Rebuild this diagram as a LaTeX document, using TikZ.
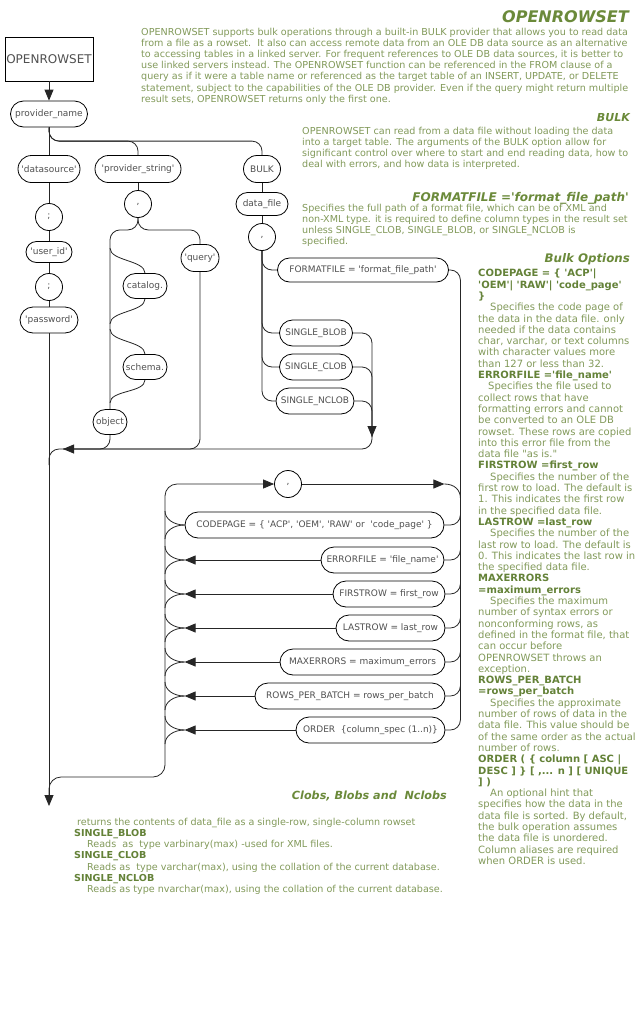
\documentclass[tikz,border=0pt]{standalone}
\usepackage{fontspec}
\newfontfamily\djv{DejaVu Sans}
\usetikzlibrary{shapes.misc,arrows.meta,calc}
\definecolor{titlegreen}{RGB}{107,138,58}
\definecolor{bodygreen}{RGB}{130,154,90}
\definecolor{boldgreen}{RGB}{100,130,56}
\definecolor{labelgray}{RGB}{80,80,80}
\newcommand{\optb}[1]{\textcolor{boldgreen}{\textbf{#1}}}
\tikzset{
  railtip/.tip={Triangle[length=11pt,width=9pt]},
  conn/.style={draw=black!85,line width=0.8pt},
  rc/.style={rounded corners=10pt},
  term/.style={rounded rectangle,draw=black,line width=0.8pt,fill=white,inner xsep=3pt,inner ysep=0pt,minimum height=26pt,font=\fontsize{9}{11}\selectfont,text=labelgray},
  punct/.style={circle,draw=black,line width=0.8pt,fill=white,inner sep=0pt,minimum size=27pt,font=\fontsize{9}{11}\selectfont,text=labelgray},
  body/.style={anchor=north west,align=left,inner sep=0pt,text=bodygreen,font=\fontsize{9.6}{11.2}\selectfont},
  head/.style={anchor=base east,inner sep=0pt,text=titlegreen},
}
\begin{document}
\djv
\begin{tikzpicture}[x=1pt,y=-1pt]
\useasboundingbox[fill=white] (0,0) rectangle (636,1015);

% ---------- nodes ----------
\node[draw=black,line width=0.8pt,minimum width=88pt,minimum height=44pt,inner sep=0pt,font=\fontsize{12}{14}\selectfont,text=labelgray] (box) at (49,59) {OPENROWSET};
\node[term,minimum width=83pt] (pn) at (49,114) {provider\_name};
\node[term,minimum width=68pt,minimum height=27pt] (ds) at (49,169) {'datasource'};
\node[punct] (s1) at (49,217) {;};
\node[term,minimum width=52pt,minimum height=21pt] (uid) at (49,252) {'user\_id'};
\node[punct] (s2) at (49,287) {;};
\node[term,minimum width=64pt] (pw) at (49,320) {'password'};

\node[term,minimum width=92pt,minimum height=27pt] (ps) at (138,169) {'provider\_string'};
\node[punct] (c1) at (138,204) {,};
\node[term,minimum width=44pt,minimum height=27pt] (q) at (200,258) {'query'};
\node[term,minimum width=50pt,minimum height=25pt] (cat) at (145,286) {catalog.};
\node[term,minimum width=50pt,minimum height=25pt] (sch) at (145,367) {schema.};
\node[term,minimum width=40pt,minimum height=25pt] (obj) at (110,422) {object};

\node[term,minimum width=43pt,minimum height=27pt] (bulk) at (262,169) {BULK};
\node[term,minimum width=58pt,minimum height=23pt] (df) at (262,204) {data\_file};
\node[punct] (c2) at (262,237) {,};
\node[term,minimum width=177pt,minimum height=24pt] (ff) at (363,270) {FORMATFILE = 'format\_file\_path'};
\node[term,minimum width=79pt] (sb) at (316,333) {SINGLE\_BLOB};
\node[term,minimum width=79pt] (sc) at (316,367) {SINGLE\_CLOB};
\node[term,minimum width=84pt] (sn) at (315,401) {SINGLE\_NCLOB};

\node[punct] (c3) at (288,484) {,};
\node[term,minimum width=265pt] (cp) at (314.5,525) {CODEPAGE = \{ 'ACP', 'OEM', 'RAW' or\ \ 'code\_page' \}};
\node[term,minimum width=129pt] (ef) at (382.5,560) {ERRORFILE = 'file\_name'};
\node[term,minimum width=118pt] (fr) at (389,594) {FIRSTROW = first\_row};
\node[term,minimum width=115pt] (lr) at (390.5,628) {LASTROW = last\_row};
\node[term,minimum width=171pt] (me) at (362.5,662) {MAXERRORS = maximum\_errors};
\node[term,minimum width=196pt] (rb) at (350,696) {ROWS\_PER\_BATCH = rows\_per\_batch};
\node[term,minimum width=155pt] (ord) at (370.5,730) {ORDER\ \ \{column\_spec (1..n)\}};

% ---------- helper coordinates ----------
\coordinate (exit) at (49,806);
\coordinate (exitJ) at (49,795);
\coordinate (ar1) at (63,449);
\coordinate (r1) at (372,437);
\coordinate (LB) at (165,777);
\coordinate (RX) at ($(ord.east)+(15,0)$);
\coordinate (j2) at ($(c1.south)+(0,12)$);
\coordinate (ar2) at ($(c3.east -| RX)+(-16,0)$);

% ---------- main column ----------
\draw[conn,-railtip] (box.south) -- (pn.north);
\draw[conn] (pn.south) -- (ds.north);
\draw[conn] (ds.south) -- (s1.north);
\draw[conn] (s1.south) -- (uid.north);
\draw[conn] (uid.south) -- (s2.north);
\draw[conn] (s2.south) -- (pw.north);
\draw[conn,-railtip] (pw.south) -- (exit);

\draw[conn,rc] (pn.south) |- ($(ps.north)+(0,-14)$) -- (ps.north);
\draw[conn,rc] (pn.south) |- ($(bulk.north)+(0,-14)$) -- (bulk.north);

% ---------- provider string ----------
\draw[conn] (ps.south) -- (c1.north);
\draw[conn,rc] (c1.south) -- (j2) -| (q.north);
\draw[conn,rc] (c1.south) -- (j2) -| (obj.north);
\draw[conn] (cat.north) .. controls +(0,-13) and +(0,13) .. ($(cat.north -| obj.north)+(0,-25)$);
\draw[conn] (cat.south) .. controls +(0,13) and +(0,-13) .. ($(cat.south -| obj.north)+(0,25)$);
\draw[conn] (sch.north) .. controls +(0,-13) and +(0,13) .. ($(sch.north -| obj.north)+(0,-25)$);
\draw[conn] (sch.south) .. controls +(0,13) and +(0,-13) .. ($(sch.south -| obj.north)+(0,23)$);
\draw[conn,rc] (obj.south) |- (ar1);
\draw[conn,rc] (q.south) |- (ar1);

% ---------- BULK ----------
\draw[conn] (bulk.south) -- (df.north);
\draw[conn] (df.south) -- (c2.north);
\draw[conn,rc] (c2.south) |- (ff.west);
\draw[conn,rc] (c2.south) |- (sb.west);
\draw[conn,rc] (c2.south) |- (sc.west);
\draw[conn,rc] (c2.south) |- (sn.west);
\draw[conn,rc] (sc.east) -| (r1);
\draw[conn,rc] (sn.east) -| (r1);
\draw[conn,rc,-railtip] (sb.east) -| (r1);
\draw[conn,rc,-railtip] (r1) |- (ar1);
\draw[conn,rc] (ar1) -| ($(pw.south |- ar1)+(0,16)$);

% ---------- bulk options loop ----------
\draw[conn,rc] (ff.east) -| (RX) -- (ord.east);
\foreach \n in {cp,ef,fr,lr,me,rb}{
  \draw[conn,rc] (\n.east) -| ($(\n.east -| RX)+(0,-14)$);
}
\draw[conn,rounded corners=12pt,railtip-] (c3.west) -| (LB) -| (exitJ);
\draw[conn,-railtip] (c3.east) -- (ar2);
\draw[conn] (ar2) .. controls +(10,0) and +(0,-8) .. ($(c3.east -| RX)+(0,14)$);
\foreach \n in {ef,fr,lr,me,rb,ord}{
  \draw[conn,-railtip] (\n.west) -- (\n.west -| cp.west);
}
\foreach \n in {cp,ef,fr,lr,me,rb,ord}{
  \draw[conn] (\n.west -| cp.west) .. controls +(-11,0) and +(0,8) .. ($(\n.west -| LB)+(0,-14)$);
  \draw[conn] (\n.west -| cp.west) .. controls +(-11,0) and +(0,-8) .. ($(\n.west -| LB)+(0,14)$);
}

% ---------- texts ----------
\node[head,font=\bfseries\itshape\fontsize{16}{18}\selectfont] (title) at (629,22) {OPENROWSET};
\node[body] (intro) at (141,27.7) {OPENROWSET supports bulk operations through a built-in BULK provider that allows you to read data\\
from a file as a rowset.\ \ It also can access remote data from an OLE DB data source as an alternative\\
to accessing tables in a linked server. For frequent references to OLE DB data sources, it is better to\\
use linked servers instead. The OPENROWSET function can be referenced in the FROM clause of a\\
query as if it were a table name or referenced as the target table of an INSERT, UPDATE, or DELETE\\
statement, subject to the capabilities of the OLE DB provider. Even if the query might return multiple\\
result sets, OPENROWSET returns only the first one.};

\node[head,font=\bfseries\itshape\fontsize{11}{13}\selectfont] (bulkhead) at (630,121) {BULK};
\node[body] (bulktext) at (302,126.7) {OPENROWSET can read from a data file without loading the data\\
into a target table. The arguments of the BULK option allow for\\
significant control over where to start and end reading data, how to\\
deal with errors, and how data is interpreted.};

\node[head,font=\bfseries\itshape\fontsize{12}{14}\selectfont] (ffhead) at (629,201) {FORMATFILE ='format\_file\_path'};
\node[body] (fftext) at (302,203.7) {Specifies the full path of a format file, which can be of XML and\\
non-XML type. it is required to define column types in the result set\\
unless SINGLE\_CLOB, SINGLE\_BLOB, or SINGLE\_NCLOB is\\
specified.};

\node[head,font=\bfseries\itshape\fontsize{11.8}{14}\selectfont] (opthead) at (630,262) {Bulk Options};
\node[body,font=\fontsize{10}{11.3}\selectfont] (opttext) at (478,269) {\optb{CODEPAGE = \{ 'ACP'|}\\
\optb{'OEM'| 'RAW'| 'code\_page'}\\
\optb{\}}\\
\hspace*{12pt}Specifies the code page of\\
the data in the data file. only\\
needed if the data contains\\
char, varchar, or text columns\\
with character values more\\
than 127 or less than 32.\\
\optb{ERRORFILE ='file\_name'}\\
\hspace*{10pt}Specifies the file used to\\
collect rows that have\\
formatting errors and cannot\\
be converted to an OLE DB\\
rowset. These rows are copied\\
into this error file from the\\
data file "as is."\\
\optb{FIRSTROW =first\_row}\\
\hspace*{12pt}Specifies the number of the\\
first row to load. The default is\\
1. This indicates the first row\\
in the specified data file.\\
\optb{LASTROW =last\_row}\\
\hspace*{12pt}Specifies the number of the\\
last row to load. The default is\\
0. This indicates the last row in\\
the specified data file.\\
\optb{MAXERRORS}\\
\optb{=maximum\_errors}\\
\hspace*{12pt}Specifies the maximum\\
number of syntax errors or\\
nonconforming rows, as\\
defined in the format file, that\\
can occur before\\
OPENROWSET throws an\\
exception.\\
\optb{ROWS\_PER\_BATCH}\\
\optb{=rows\_per\_batch}\\
\hspace*{12pt}Specifies the approximate\\
number of rows of data in the\\
data file. This value should be\\
of the same order as the actual\\
number of rows.\\
\optb{ORDER ( \{ column [ ASC |}\\
\optb{DESC ] \} [ ,... n ] [ UNIQUE}\\
\optb{] )}\\
\hspace*{12pt}An optional hint that\\
specifies how the data in the\\
data file is sorted. By default,\\
the bulk operation assumes\\
the data file is unordered.\\
Column aliases are required\\
when ORDER is used.};

\node[head,font=\bfseries\itshape\fontsize{11.2}{13}\selectfont] (clobhead) at (447,799) {Clobs, Blobs and\ \ Nclobs};
\node[body] (clobtext) at (74,817.7) {\hspace*{3pt}returns the contents of data\_file as a single-row, single-column rowset\\
\optb{SINGLE\_BLOB}\\
\hspace*{13pt}Reads\ \ as\ \ type varbinary(max) -used for XML files.\\
\optb{SINGLE\_CLOB}\\
\hspace*{13pt}Reads as\ \ type varchar(max), using the collation of the current database.\\
\optb{SINGLE\_NCLOB}\\
\hspace*{13pt}Reads as type nvarchar(max), using the collation of the current database.};
\end{tikzpicture}
\end{document}
